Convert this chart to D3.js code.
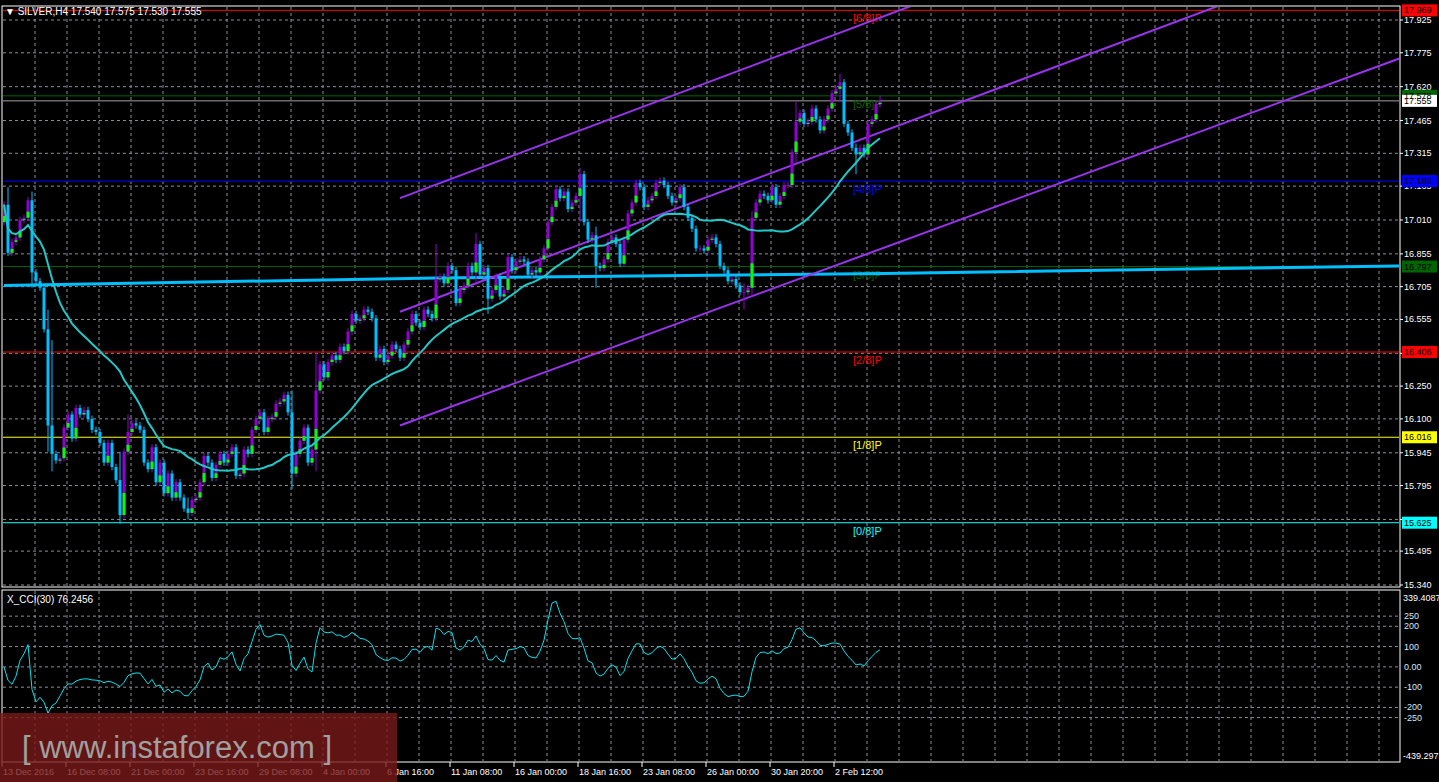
<!DOCTYPE html>
<html>
<head>
<meta charset="utf-8">
<script src="https://cdn.jsdelivr.net/npm/d3@7"></script>
<style>
body { margin: 0; background: #000; overflow: hidden; }
text { font-family: "Liberation Sans", Arial, sans-serif; }
</style>
</head>
<body>
<svg id="chart" width="1439" height="782"></svg>
<script>
// closes, one per H4 bar
const closes = [
17.08,16.86,16.91,16.93,17.01,17.02,17.10,16.77,16.73,16.70,16.51,16.07,15.94,15.91,15.92,16.06,16.12,16.01,16.15,16.12,
16.14,16.10,16.05,16.04,15.99,15.90,15.99,15.88,15.82,15.66,15.95,16.04,16.08,16.07,16.05,15.90,15.87,15.97,15.81,15.90,
15.76,15.85,15.74,15.81,15.74,15.69,15.67,15.73,15.74,15.81,15.93,15.90,15.83,15.89,15.94,15.90,15.94,15.97,15.84,15.85,
15.96,15.94,16.05,16.10,16.13,16.04,16.10,16.11,16.17,16.18,16.21,16.13,15.85,15.94,16.00,16.06,15.90,15.96,16.23,16.35,
16.29,16.36,16.39,16.37,16.43,16.41,16.50,16.58,16.55,16.56,16.60,16.59,16.56,16.38,16.42,16.36,16.39,16.44,16.42,16.38,
16.44,16.50,16.58,16.54,16.52,16.60,16.58,16.56,16.74,16.75,16.72,16.80,16.78,16.63,16.69,16.71,16.80,16.77,16.90,16.76,
16.79,16.65,16.69,16.75,16.66,16.69,16.84,16.78,16.82,16.83,16.82,16.76,16.78,16.77,16.83,16.88,17.00,17.07,17.15,17.11,
17.14,17.06,17.09,17.12,17.22,17.00,16.92,16.94,16.80,16.79,16.83,16.91,16.93,16.90,16.81,16.92,17.04,17.09,17.18,17.16,
17.07,17.10,17.12,17.18,17.19,17.17,17.12,17.09,17.11,17.16,17.07,17.02,16.97,16.88,16.88,16.87,16.92,16.93,16.90,16.80,
16.78,16.73,16.74,16.71,16.68,16.68,16.70,17.02,17.09,17.13,17.12,17.10,17.16,17.08,17.12,17.17,17.17,17.32,17.46,17.50,
17.45,17.46,17.52,17.47,17.42,17.47,17.52,17.59,17.61,17.64,17.45,17.41,17.34,17.31,17.34,17.31,17.45,17.47,17.54,17.555
];
const firstOpen = 17.00;
// wick extremes that stand out in the picture: [bar, high, low]
const wickMarks = [
  [1, 17.16, 16.85], [7, 17.14, 16.70], [11, 16.60, 15.95], [12, 16.46, 15.86], [29, 15.95, 15.62],
  [31, 16.12, 15.95], [46, 15.74, 15.64], [72, 16.23, 15.78], [78, 16.40, 15.86], [108, 16.90, 16.70],
  [118, 16.95, 16.72], [121, 16.80, 16.58], [144, 17.25, 17.00], [148, 16.98, 16.70], [185, 16.72, 16.60],
  [187, 17.05, 16.66], [198, 17.55, 17.27], [209, 17.68, 17.55], [213, 17.36, 17.22], [219, 17.58, 17.53]
];
// slow moving average (thick blue), read as anchors [bar, price]
const slowMa = [[0, 16.71], [108, 16.745], [220, 16.765], [349, 16.80]];
// price channel anchors [bar, price] at bar 99 and bar 349
const channelUpper = [[99, 17.11], [349, 18.83]];
const channelMiddle = [[99, 16.59], [349, 18.30]];
const channelLower = [[99, 16.07], [349, 17.75]];
// Murrey math levels
const murreyValues = [17.969, 17.578, 17.188, 16.797, 16.406, 16.016, 15.625];
const murreyLabels = ["[6/8]P", "[5/8]P", "[4/8]P", "[3/8]P", "[2/8]P", "[1/8]P", "[0/8]P"];
const murreyColors = ["#ff0000", "#006400", "#0000ff", "#006400", "#ff0000", "#ffff00", "#00ffff"];
const priceTicks = [17.925, 17.775, 17.620, 17.465, 17.315, 17.165, 17.010, 16.855, 16.705, 16.555, 16.400,
  16.250, 16.100, 15.945, 15.795, 15.640, 15.495, 15.340];
const hiddenTicks = [16.400, 15.640];
const cciTicks = [250, 200, 100, 0, -100, -200, -250];
const cciTickLabels = ["250", "200", "100", "0.00", "-100", "-200", "-250"];
const timeLabels = ["13 Dec 2016", "16 Dec 08:00", "21 Dec 00:00", "23 Dec 16:00", "29 Dec 08:00", "4 Jan 00:00",
  "6 Jan 16:00", "11 Jan 08:00", "16 Jan 00:00", "18 Jan 16:00", "23 Jan 08:00", "26 Jan 00:00", "30 Jan 20:00", "2 Feb 12:00"];

const svg = d3.select("#chart");
const plotR = 1400;
const x = d3.scaleLinear().domain([0, 349]).range([4, 1400]);
const y = d3.scaleLinear().domain([15.340, 17.925]).range([585, 20]);
const yc = d3.scaleLinear().domain([-439.297, 339.4087]).range([756, 598]);

// build bars
const bars = closes.map((c, i) => {
  const o = i === 0 ? firstOpen : closes[i - 1];
  return { i, o, c, h: Math.max(o, c) + 0.015, l: Math.min(o, c) - 0.015 };
});
wickMarks.forEach(([i, h, l]) => { bars[i].h = Math.max(bars[i].h, h); bars[i].l = Math.min(bars[i].l, l); });

// moving average 30 and CCI 30
const ma = bars.map((b, i) => d3.mean(closes.slice(Math.max(0, i - 29), i + 1)));
const tp = bars.map(b => (b.h + b.l + b.c) / 3);
const cci = tp.map((t, i) => {
  const win = tp.slice(Math.max(0, i - 29), i + 1);
  const m = d3.mean(win);
  const md = d3.mean(win, v => Math.abs(v - m)) || 1;
  return (t - m) / (0.015 * md);
});

// frames
svg.append("rect").attr("x", 2).attr("y", 6).attr("width", plotR - 2).attr("height", 581)
  .attr("fill", "none").attr("stroke", "#fff");
svg.append("rect").attr("x", 2).attr("y", 590).attr("width", plotR - 2).attr("height", 172)
  .attr("fill", "none").attr("stroke", "#fff");

svg.append("clipPath").attr("id", "cm").append("rect")
  .attr("x", 3).attr("y", 7).attr("width", plotR - 4).attr("height", 579);
svg.append("clipPath").attr("id", "cc").append("rect")
  .attr("x", 3).attr("y", 591).attr("width", plotR - 4).attr("height", 170);

// grid
const gridX = d3.range(7.75, 349, 8);
const gm = svg.append("g").attr("clip-path", "url(#cm)");
gm.selectAll(".gx").data(gridX).enter().append("line")
  .attr("x1", d => x(d)).attr("x2", d => x(d)).attr("y1", 7).attr("y2", 586)
  .attr("stroke", "#8a8f99").attr("stroke-dasharray", "3,3");
gm.selectAll(".gy").data(priceTicks).enter().append("line")
  .attr("x1", 3).attr("x2", plotR).attr("y1", d => y(d)).attr("y2", d => y(d))
  .attr("stroke", "#8a8f99").attr("stroke-dasharray", "3,3");
const gc = svg.append("g").attr("clip-path", "url(#cc)");
gc.selectAll(".gx").data(gridX).enter().append("line")
  .attr("x1", d => x(d)).attr("x2", d => x(d)).attr("y1", 591).attr("y2", 762)
  .attr("stroke", "#8a8f99").attr("stroke-dasharray", "3,3");
gc.selectAll(".gy").data(cciTicks).enter().append("line")
  .attr("x1", 3).attr("x2", plotR).attr("y1", d => yc(d)).attr("y2", d => yc(d))
  .attr("stroke", "#8a8f99").attr("stroke-dasharray", "3,3");

// murrey lines
gm.selectAll(".mm").data(murreyValues).enter().append("line")
  .attr("x1", 3).attr("x2", plotR).attr("y1", d => y(d)).attr("y2", d => y(d))
  .attr("stroke", (d, i) => murreyColors[i]).attr("stroke-width", 1);
gm.append("line").attr("x1", 3).attr("x2", plotR).attr("y1", y(17.555)).attr("y2", y(17.555)).attr("stroke", "#a0a0a0");
gm.selectAll(".ml").data(murreyValues).enter().append("text")
  .attr("x", 853).attr("y", d => y(d) + 12).attr("font-size", 11)
  .attr("fill", (d, i) => murreyColors[i]).text((d, i) => murreyLabels[i]);

// slow MA
const lineXY = d3.line().x(d => x(d[0])).y(d => y(d[1]));
gm.append("path").attr("d", lineXY(slowMa)).attr("fill", "none").attr("stroke", "#00bfff").attr("stroke-width", 3);

// channel
[channelUpper, channelMiddle, channelLower].forEach(c => {
  gm.append("path").attr("d", lineXY(c)).attr("fill", "none").attr("stroke", "#9933ee").attr("stroke-width", 2);
});

// candles
const up = "#9400d3", dn = "#00bfff";
gm.selectAll(".wick").data(bars).enter().append("line")
  .attr("x1", d => x(d.i)).attr("x2", d => x(d.i)).attr("y1", d => y(d.h)).attr("y2", d => y(d.l))
  .attr("stroke", d => d.c >= d.o ? up : dn);
gm.selectAll(".body").data(bars).enter().append("rect")
  .attr("x", d => x(d.i) - 1.5).attr("width", 3)
  .attr("y", d => y(Math.max(d.o, d.c))).attr("height", d => Math.max(1, y(Math.min(d.o, d.c)) - y(Math.max(d.o, d.c))))
  .attr("fill", d => d.c >= d.o ? up : dn);
gm.selectAll(".acc").data(bars.filter(b => b.c > b.o)).enter().append("rect")
  .attr("x", d => x(d.i) - 1.5).attr("width", 3)
  .attr("y", d => y(d.o + (d.c - d.o) * 0.35)).attr("height", d => Math.max(1, y(d.o) - y(d.o + (d.c - d.o) * 0.35)))
  .attr("fill", "#00ff00");

// MA 30
gm.append("path").attr("d", d3.line().x((d, i) => x(i)).y(d => y(d))(ma))
  .attr("fill", "none").attr("stroke", "#20c8c8").attr("stroke-width", 2);

// CCI
gc.append("path").attr("d", d3.line().x((d, i) => x(i)).y(d => yc(d))(cci))
  .attr("fill", "none").attr("stroke", "#00e5ee").attr("stroke-width", 1);

// price axis
const ax = svg.append("g");
ax.selectAll(".pt").data(priceTicks.filter(t => !hiddenTicks.includes(t))).enter().append("text")
  .attr("x", 1404).attr("y", d => y(d) + 3).attr("font-size", 9).attr("fill", "#fff").text(d => d.toFixed(3));
ax.selectAll(".ptk").data(priceTicks).enter().append("line")
  .attr("x1", plotR).attr("x2", plotR + 3).attr("y1", d => y(d)).attr("y2", d => y(d)).attr("stroke", "#fff");
const boxes = murreyValues.map((v, i) => ({ v, bg: murreyColors[i] }));
boxes.splice(2, 0, { v: 17.555, bg: "#ffffff" });
ax.selectAll(".pb").data(boxes).enter().append("rect")
  .attr("x", 1402).attr("y", d => y(d.v) - 6).attr("width", 35).attr("height", 12).attr("fill", d => d.bg);
ax.selectAll(".pbt").data(boxes).enter().append("text")
  .attr("x", 1404).attr("y", d => y(d.v) + 3).attr("font-size", 9).attr("fill", "#000").text(d => d.v.toFixed(3));

// cci axis
ax.selectAll(".ct").data(cciTicks).enter().append("text")
  .attr("x", 1404).attr("y", d => yc(d) + 3).attr("font-size", 9).attr("fill", "#cfe8ff")
  .text((d, i) => cciTickLabels[i]);
ax.append("text").attr("x", 1403).attr("y", yc(339.4087) + 3).attr("font-size", 9).attr("fill", "#fff").text("339.4087");
ax.append("text").attr("x", 1403).attr("y", yc(-439.297) + 3).attr("font-size", 9).attr("fill", "#fff").text("-439.297");

// time axis
const tIdx = timeLabels.map((t, k) => k * 16);
ax.selectAll(".tt").data(timeLabels).enter().append("text")
  .attr("x", (d, k) => x(tIdx[k]) - 1).attr("y", 775).attr("font-size", 9).attr("fill", "#fff").text(d => d);
ax.selectAll(".ttk").data(tIdx).enter().append("line")
  .attr("x1", d => x(d) - 2).attr("x2", d => x(d) - 2).attr("y1", 762).attr("y2", 767).attr("stroke", "#fff");

// titles
svg.append("text").attr("x", 5).attr("y", 15).attr("font-size", 10).attr("fill", "#fff")
  .text("\u25BC SILVER,H4  17.540 17.575 17.530 17.555");
svg.append("text").attr("x", 7).attr("y", 603).attr("font-size", 10).attr("fill", "#fff").text("X_CCI(30) 76.2456");

// watermark
svg.append("rect").attr("x", 0).attr("y", 713).attr("width", 397).attr("height", 69).attr("fill", "rgba(120,25,25,0.8)");
svg.append("text").attr("x", 22).attr("y", 758).attr("font-size", 31).attr("fill", "#a0a0a0")
  .attr("font-family", "Open Sans, sans-serif").text("[ www.instaforex.com ]");
</script>
</body>
</html>
